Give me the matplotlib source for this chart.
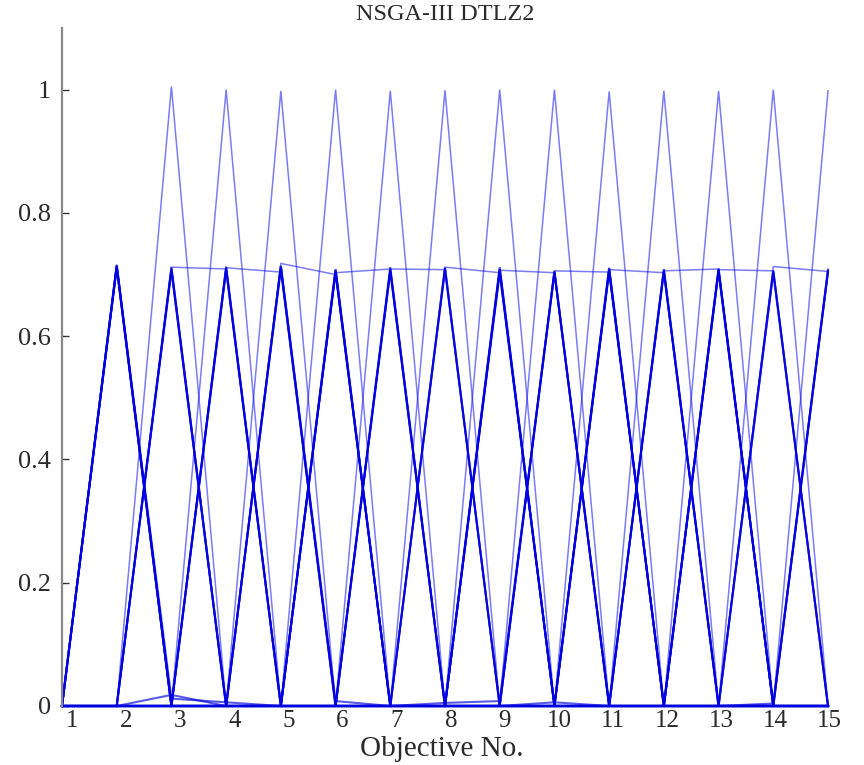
import numpy as np
import matplotlib
matplotlib.use("Agg")
import matplotlib.pyplot as plt
from matplotlib.transforms import ScaledTranslation

# ---------------- data ----------------
n_obj = 15
objectives = list(range(1, n_obj + 1))
ytick_vals = [0, 0.2, 0.4, 0.6, 0.8, 1]
ytick_labels = ["0", "0.2", "0.4", "0.6", "0.8", "1"]

# extreme solutions: a single objective close to 1
unit_obj = [3, 4, 5, 6, 7, 8, 9, 10, 11, 12, 13, 14, 15]
unit_val = [1.005, 1.0, 0.998, 1.0, 0.998, 0.999, 1.0, 1.0, 0.997, 0.998, 0.998, 1.0, 0.998]

# two-objective solutions, adjacent objectives (form the ~0.71 "roof")
adj_a = [3, 4, 5, 6, 7, 8, 9, 10, 11, 12, 13, 14]
adj_b = [4, 5, 6, 7, 8, 9, 10, 11, 12, 13, 14, 15]
adj_va = [0.712, 0.711, 0.718, 0.703, 0.709, 0.712, 0.707, 0.706, 0.708, 0.706, 0.708, 0.713]
adj_vb = [0.709, 0.704, 0.700, 0.709, 0.708, 0.703, 0.703, 0.704, 0.703, 0.709, 0.706, 0.705]

# two-objective solutions, non-adjacent objectives (thick peaks)
pair_a = [2, 2, 2, 2, 3, 3, 3, 3, 4, 4, 4, 5, 5, 5, 6, 6, 6, 7, 7, 8, 8, 9, 9, 10, 10, 11, 12, 13, 2, 2]
pair_b = [4, 7, 10, 13, 5, 9, 12, 15, 6, 9, 13, 7, 11, 14, 8, 11, 15, 9, 12, 10, 13, 11, 15, 12, 14, 13, 14, 15, 6, 11]
pair_va = [0.716, 0.714, 0.712, 0.715, 0.710, 0.708, 0.712, 0.706, 0.711, 0.708, 0.713,
           0.712, 0.709, 0.714, 0.707, 0.704, 0.709, 0.712, 0.708, 0.711, 0.707,
           0.708, 0.704, 0.706, 0.703, 0.710, 0.706, 0.707, 0.713, 0.711]
pair_vb = [0.708, 0.706, 0.703, 0.705, 0.714, 0.709, 0.704, 0.706, 0.703, 0.712, 0.708,
           0.705, 0.711, 0.703, 0.711, 0.706, 0.708, 0.703, 0.709, 0.705, 0.710,
           0.707, 0.706, 0.707, 0.705, 0.706, 0.707, 0.704, 0.707, 0.705]

# small near-zero residuals on some of the pair solutions
bump_pair = [3, 3, 16, 13, 2, 2, 10, 7]
bump_obj = [3, 4, 3, 6, 8, 9, 10, 14]
bump_val = [0.012, 0.006, 0.018, 0.008, 0.005, 0.008, 0.006, 0.004]

# ---------------- build solution tables ----------------
def make(entries):
    s = np.zeros(n_obj)
    for k, v in entries:
        s[k - 1] = v
    return s

unit_solutions = [make([(k, v)]) for k, v in zip(unit_obj, unit_val)]
adj_solutions = [make([(a, va), (b, vb)]) for a, b, va, vb in zip(adj_a, adj_b, adj_va, adj_vb)]
pair_solutions = [make([(a, va), (b, vb)]) for a, b, va, vb in zip(pair_a, pair_b, pair_va, pair_vb)]
for p, o, v in zip(bump_pair, bump_obj, bump_val):
    pair_solutions[p][o - 1] = v

# ---------------- plot ----------------
plt.rcParams['font.family'] = ['Liberation Serif', 'DejaVu Serif']
fig = plt.figure(figsize=(8.64, 7.65), dpi=100)
ax = fig.add_axes([62 / 864, 1 - 706 / 765, (828 - 62) / 864, (706 - 28) / 765])

for s in unit_solutions + adj_solutions:
    ax.plot(objectives, s, color='#1010f0', linewidth=1.1, alpha=0.55,
            clip_on=False, solid_joinstyle='miter')
for s in pair_solutions:
    ax.plot(objectives, s, color='#0000e0', linewidth=1.5, alpha=0.65,
            clip_on=False, solid_joinstyle='miter')

ax.set_xlim(1, 15)
ax.set_ylim(0, 1.1)
ax.set_xticks(objectives)
ax.set_xticklabels([str(o) for o in objectives], fontsize=18, color='#2a2a2a')
ax.set_yticks(ytick_vals)
ax.set_yticklabels(ytick_labels, fontsize=19, color='#2a2a2a')

ax.tick_params(axis='x', length=0, pad=3)
ax.tick_params(axis='y', direction='in', length=5, width=1, color='#333333', pad=8)

# small rightward shift of the x tick labels, as in the original figure
for i, t in enumerate(ax.get_xticklabels()):
    dx = (10 - 0.6 * i) / 100.0
    t.set_transform(t.get_transform() + ScaledTranslation(dx, 0, fig.dpi_scale_trans))

for side in ['top', 'right', 'bottom']:
    ax.spines[side].set_visible(False)
ax.spines['left'].set_color('#888888')
ax.spines['left'].set_linewidth(1.6)

fig.text(445 / 864, 1 - 15 / 765, "NSGA-III DTLZ2", fontsize=17.5, color='#2a2a2a',
         ha='center', va='center')
fig.text(442 / 864, 1 - 749 / 765, "Objective No.", fontsize=21, color='#2a2a2a',
         ha='center', va='center')

fig.savefig("out.png", dpi=100)
